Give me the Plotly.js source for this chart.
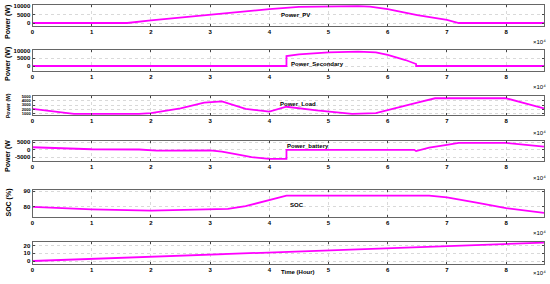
<!DOCTYPE html>
<html>
<head>
<meta charset="utf-8">
<script src="https://cdn.plot.ly/plotly-3.0.1.min.js"></script>
<style>html,body{margin:0;padding:0;background:#fff;}#chart{width:550px;height:284px;}</style>
</head>
<body>
<div id="chart"></div>
<script>
// ---- data (time in seconds) ----
const pvTime = [0, 10000, 16000, 20000, 25000, 30000, 35000, 40000, 45000, 50000, 55000, 57000, 60000, 65000, 70000, 72000, 80000, 86400];
const pvPower = [0, 0, 0, 1500, 3200, 4900, 6700, 8200, 9500, 9900, 9900, 9600, 8200, 4700, 1800, 0, 0, 0];

const secTime = [0, 42900, 42901, 45000, 50000, 55000, 58000, 60000, 63000, 64800, 64801, 86400];
const secPower = [0, 0, 6500, 7600, 8950, 9350, 8950, 7200, 3900, 1300, 0, 0];

const loadTime = [0, 7000, 18000, 20000, 25000, 29000, 32000, 36000, 40000, 42900, 48000, 54000, 58000, 60000, 65000, 68000, 80000, 86400];
const loadPower = [2060, 850, 850, 1050, 2200, 3600, 3900, 2060, 1420, 2600, 1700, 880, 1050, 1820, 3600, 4650, 4650, 2200];

const batTime = [0, 10000, 18000, 21000, 30000, 32000, 35000, 37000, 40000, 42900, 42901, 64500, 64800, 67000, 70000, 72000, 80000, 86400];
const batPower = [1630, 270, 100, -680, -540, -1360, -3600, -5000, -6300, -6300, -100, -100, -1000, 1400, 3200, 4560, 4560, 2040];

const socTime = [0, 10000, 20000, 30000, 33000, 36000, 40000, 42900, 67000, 70000, 75000, 80000, 86400];
const socValue = [80, 78.5, 77.6, 78.3, 78.7, 80.5, 84.4, 87.2, 87.2, 86.1, 82.8, 79.2, 76.2];

const hourTime = [0, 10000, 20000, 30000, 40000, 50000, 60000, 70000, 80000, 86400];
const hourValue = [0, 2.8, 5.6, 8.3, 11.1, 13.9, 16.7, 19.4, 22.2, 24];

const xTickVals = [0, 10000, 20000, 30000, 40000, 50000, 60000, 70000, 80000];
const xTickText = ["0", "1", "2", "3", "4", "5", "6", "7", "8"];

const powerTickVals = [0, 5000, 10000];
const powerTickText = ["0", "5000", "10000"];
const loadTickVals = [1000, 2000, 3000, 4000, 5000];
const loadTickText = ["1000", "2000", "3000", "4000", "5000"];
const batTickVals = [-5000, 0, 5000];
const batTickText = ["-5000", "0", "5000"];
const socTickVals = [80, 90];
const socTickText = ["80", "90"];
const hourTickVals = [0, 10, 20];
const hourTickText = ["0", "10", "20"];

const panelLabels = ["Power_PV", "Power_Secondary", "Power_Load", "Power_battery", "SOC", "Time (Hour)"];
const yTitles = ["Power (W)", "Power (W)", "Power (W)", "Power (W", "SOC (%)", ""];

// ---- layout geometry (pixels) ----
const W = 550, H = 284;
const xl = 32.5, xr = 544;
const panels = [
  {top: 5, bot: 26, range: [-1760, 10590], tv: powerTickVals, tt: powerTickText, tf: 6},
  {top: 50, bot: 71, range: [-3270, 10460], tv: powerTickVals, tt: powerTickText, tf: 6},
  {top: 96, bot: 115, range: [600, 5200], tv: loadTickVals, tt: loadTickText, tf: 4},
  {top: 141, bot: 161, range: [-7690, 5880], tv: batTickVals, tt: batTickText, tf: 6},
  {top: 190, bot: 216.5, range: [73.9, 90.8], tv: socTickVals, tt: socTickText, tf: 6},
  {top: 242, bot: 264, range: [-3.9, 24.8], tv: hourTickVals, tt: hourTickText, tf: 6}
];
const series = [[pvTime, pvPower], [secTime, secPower], [loadTime, loadPower], [batTime, batPower], [socTime, socValue], [hourTime, hourValue]];
const titleCenters = [22, 64, 106, 156, 202.5, 0];
const titleSizes = [7, 7, 5, 7, 7, 7];
const labelPos = [[295, 15], [317, 64], [298, 104], [308, 146], [297, 205], [298, 272]];
const x104Y = [42, 87, 132.5, 177.5, 233, 273];

const FONT = "Liberation Sans, Arial, sans-serif";
const traces = [];
const layout = {
  width: W, height: H,
  margin: {l: 0, r: 0, t: 0, b: 0},
  paper_bgcolor: "#fff", plot_bgcolor: "#fff",
  showlegend: false,
  font: {family: FONT, color: "#000"},
  annotations: []
};

panels.forEach((p, i) => {
  const n = i + 1;
  const sfx = n === 1 ? "" : String(n);
  traces.push({
    x: series[i][0], y: series[i][1], type: "scatter", mode: "lines",
    line: {color: "#ff00ff", width: 1.8},
    xaxis: "x" + sfx, yaxis: "y" + sfx,
    hoverinfo: "skip"
  });
  layout["xaxis" + sfx] = {
    domain: [xl / W, xr / W], anchor: "y" + sfx,
    range: [0, 86400], tickmode: "array", tickvals: xTickVals, ticktext: xTickText,
    ticks: "inside", ticklen: 2, tickcolor: "#444",
    showline: true, linecolor: "#666", linewidth: 1, mirror: "allticks",
    showgrid: true, gridcolor: "#d9d9d9", griddash: "dot", gridwidth: 1,
    zeroline: false, tickfont: {size: 6, family: FONT, color: "#000", weight: "bold"}
  };
  layout["yaxis" + sfx] = {
    domain: [1 - p.bot / H, 1 - p.top / H], anchor: "x" + sfx,
    range: p.range, tickmode: "array", tickvals: p.tv, ticktext: p.tt,
    ticks: "inside", ticklen: 2, tickcolor: "#444",
    showline: true, linecolor: "#666", linewidth: 1, mirror: "allticks",
    showgrid: true, gridcolor: "#d9d9d9", griddash: "dot", gridwidth: 1,
    zeroline: false, tickfont: {size: p.tf, family: FONT, color: "#000", weight: "bold"}
  };
  if (yTitles[i]) {
    layout.annotations.push({
      text: yTitles[i], xref: "paper", yref: "paper",
      x: 8 / W, y: 1 - titleCenters[i] / H, textangle: -90, showarrow: false,
      xanchor: "center", yanchor: "middle",
      font: {size: titleSizes[i], family: FONT, color: "#000", weight: "bold"}
    });
  }
  layout.annotations.push({
    text: panelLabels[i], xref: "paper", yref: "paper",
    x: labelPos[i][0] / W, y: 1 - labelPos[i][1] / H, showarrow: false,
    xanchor: "center", yanchor: "middle",
    font: {size: 6, family: FONT, color: "#000", weight: "bold"}
  });
  layout.annotations.push({
    text: "×10⁴", xref: "paper", yref: "paper",
    x: 539 / W, y: 1 - x104Y[i] / H, showarrow: false,
    xanchor: "center", yanchor: "middle", font: {size: 6, family: FONT, color: "#000"}
  });
});

Plotly.newPlot("chart", traces, layout, {staticPlot: true, displayModeBar: false});
</script>
</body>
</html>
